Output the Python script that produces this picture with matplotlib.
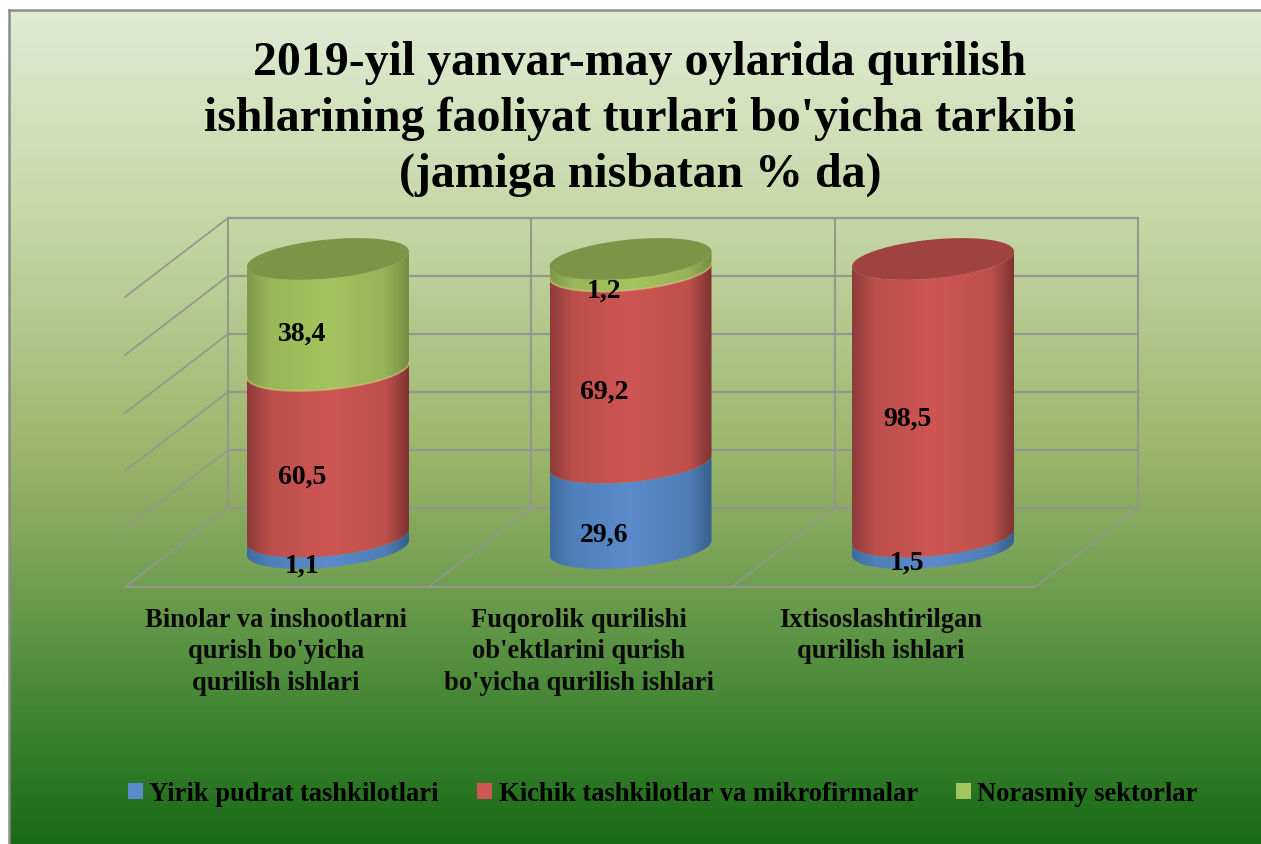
import numpy as np
import matplotlib
matplotlib.use("Agg")
import matplotlib.pyplot as plt
from matplotlib.colors import LinearSegmentedColormap
from matplotlib.patches import Patch, PathPatch
from matplotlib.path import Path

plt.rcParams['font.family'] = ['Liberation Serif', 'DejaVu Serif']
plt.rcParams['font.weight'] = 'bold'

# data
title = "2019-yil yanvar-may oylarida qurilish\nishlarining faoliyat turlari bo'yicha tarkibi\n(jamiga nisbatan % da)"
categories = ["Binolar va inshootlarni\nqurish bo'yicha\nqurilish ishlari",
              "Fuqorolik qurilishi\nob'ektlarini qurish\nbo'yicha qurilish ishlari",
              "Ixtisoslashtirilgan\nqurilish ishlari"]
series_names = ["Yirik pudrat tashkilotlari", "Kichik tashkilotlar va mikrofirmalar", "Norasmiy sektorlar"]
yirik = [1.1, 29.6, 1.5]
kichik = [60.5, 69.2, 98.5]
norasmiy = [38.4, 1.2, 0]
grid_ticks = [0, 20, 40, 60, 80, 100]

W, H = 1261, 845
fig = plt.figure(figsize=(W / 100, H / 100), dpi=100, facecolor='white')

def box(x0, y0, x1, y1):
    # pixel box (y from top) -> figure fractions
    return [x0 / W, 1 - y1 / H, (x1 - x0) / W, (y1 - y0) / H]

# background, runs off the right and bottom of the picture
bg = fig.add_axes(box(9, 11, 1266, 850))
bg_cmap = LinearSegmentedColormap.from_list('bg', [
    (0.0, '#e0ebd3'), (0.25, '#c6d7a6'), (0.52, '#9db66d'),
    (0.68, '#739f52'), (0.86, '#3a822f'), (1.0, '#1a6a15')])
bg.imshow(np.linspace(0, 1, 400).reshape(-1, 1), aspect='auto', cmap=bg_cmap, vmin=0, vmax=1)
bg.set_xticks([])
bg.set_yticks([])
for s in bg.spines.values():
    s.set_color('#8c8c8c')
    s.set_linewidth(1.8)

# back wall with the gridlines, floor and side wall run forward from it
wall = fig.add_axes(box(228, 219, 1138, 509))
wall.patch.set_visible(False)
wall.set_xlim(-0.5, 2.5)
wall.set_ylim(0, 100)
wall.set_xticks([])
wall.set_yticks([])
for s in wall.spines.values():
    s.set_visible(False)
grid_col = '#94978e'
dx = -103 / (910 / 3)
dy = -79 / 2.9
for v in grid_ticks:
    wall.plot([-0.5, 2.5], [v, v], color=grid_col, lw=1.6, clip_on=False)
    wall.plot([-0.5, -0.5 + dx], [v, v + dy], color=grid_col, lw=1.2, clip_on=False)
for e in [-0.5, 0.5, 1.5, 2.5]:
    wall.plot([e, e], [0, 100], color=grid_col, lw=1.5, clip_on=False)
    wall.plot([e, e + dx], [0, dy], color=grid_col, lw=1.2, clip_on=False)
wall.plot([-0.5 + dx, 2.5 + dx], [dy, dy], color=grid_col, lw=1.6, clip_on=False)

# cylinders, on an axes covering the whole figure
X0, XS, Y0, YS = 328, 302.5, 549, 2.89
ax = fig.add_axes([0, 0, 1, 1])
ax.patch.set_visible(False)
ax.axis('off')
xlim = ((0 - X0) / XS, (W - X0) / XS)
ylim = ((Y0 - H) / YS, Y0 / YS)

hw = 81 / XS
b = 19.5 / YS
tilt = 7.5 / YS
min_band = 4  # very thin slices still show as a visible band
tt = np.linspace(np.pi, 2 * np.pi, 80)

shade_pos = [0, 0.14, 0.5, 0.86, 1]
shades = [
    ['#3f6c9f', '#5080ba', '#5b8bcb', '#4f7db5', '#38608c'],
    ['#8e3b3a', '#bb4f4c', '#ce5653', '#bd504d', '#7f3433'],
    ['#7e9a48', '#97b758', '#a3c55f', '#95b257', '#748d43'],
]
cap_colors = ['#3f6a9c', '#a04241', '#7b9447']

def arc(cx, v):
    return cx + hw * np.cos(tt), v + b * np.sin(tt) + tilt * np.cos(tt)

series = [yirik, kichik, norasmiy]
for i in range(len(categories)):
    base = 0
    cum = 0
    top_idx = 0
    for k, vals in enumerate(series):
        if vals[i] <= 0:
            continue
        cum += vals[i]
        upper = cum
        if upper < 99.9:
            upper = min(max(cum, min_band), 100 - min_band)
        x1, y1 = arc(i, base)
        x2, y2 = arc(i, upper)
        verts = np.vstack([np.c_[x1, y1], np.c_[x2, y2][::-1], [[x1[0], y1[0]]]])
        clip = PathPatch(Path(verts), transform=ax.transData)
        cmap = LinearSegmentedColormap.from_list('c%d' % k, list(zip(shade_pos, shades[k])))
        im = ax.imshow(np.linspace(0, 1, 200).reshape(1, -1), cmap=cmap, aspect='auto',
                       extent=(i - hw, i + hw, base - b - tilt, upper + b + tilt), zorder=2)
        im.set_clip_path(clip)
        if k == 2:
            ax.plot(x1, y1, color='#d8c078', lw=1.4, alpha=0.6, zorder=3)
        base = upper
        top_idx = k
    cap_t = np.linspace(0, 2 * np.pi, 160)
    ax.fill(i + hw * np.cos(cap_t), base + b * np.sin(cap_t) + tilt * np.cos(cap_t),
            color=cap_colors[top_idx], lw=0, zorder=4)

# value labels
label_shift = [-19, -29, -16.5]
for i in range(len(categories)):
    base = 0
    for vals in series:
        if vals[i] > 0:
            ax.annotate(str(vals[i]).replace('.', ','), (i, base + vals[i] / 2),
                        xytext=(-26 * 0.72, label_shift[i] * 0.72), textcoords='offset points',
                        ha='center', va='center', fontsize=20, color='black', zorder=5)
            base += vals[i]

# category labels
for i, c in enumerate(categories):
    ax.text(i - 52 / XS, (Y0 - 608) / YS, c, ha='center', va='top', fontsize=19.1,
            color='#0a0a0a', linespacing=1.33, zorder=5)

ax.set_xlim(xlim)
ax.set_ylim(ylim)

fig.text(640 / W, 1 - 119 / H, title, ha='center', va='center', fontsize=34.5,
         color='black', linespacing=1.33)

handles = [Patch(facecolor=shades[k][2], edgecolor='none') for k in range(3)]
fig.legend(handles, series_names, loc='center', bbox_to_anchor=(663 / W, 1 - 795 / H), ncol=3,
           frameon=False, fontsize=19.1, handlelength=0.55, handleheight=0.55,
           handletextpad=0.25, columnspacing=1.45, labelcolor='black')

fig.savefig("out.png", dpi=100)
